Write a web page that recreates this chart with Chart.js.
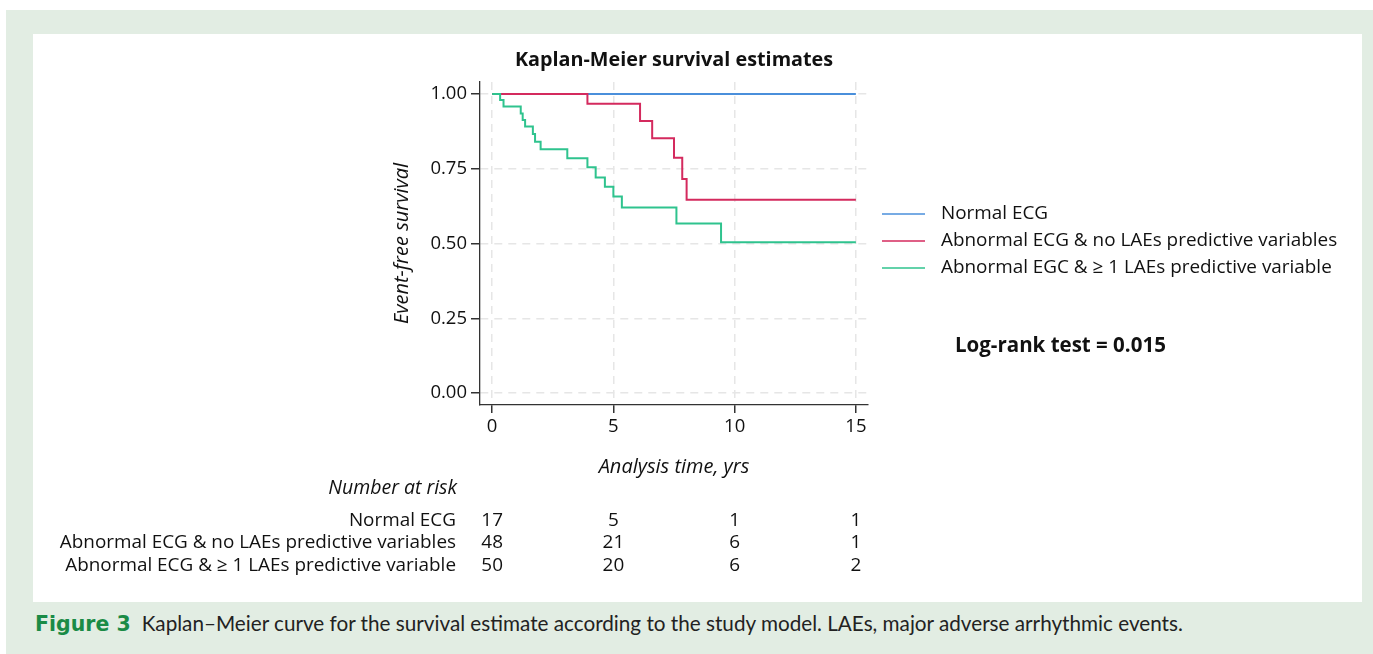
<!DOCTYPE html>
<html>
<head>
<meta charset="utf-8">
<script src="https://cdn.jsdelivr.net/npm/chart.js@4"></script>
<style>
  html, body { margin: 0; padding: 0; background: #ffffff; width: 1373px; height: 654px; overflow: hidden; }
  #outer { position: absolute; left: 6px; top: 10px; width: 1367px; height: 644px; background: #e2ede3; }
  #panel { position: absolute; left: 33px; top: 34px; width: 1329px; height: 568px; background: #ffffff; }
  #cv { position: absolute; left: 0; top: 0; }
  #caption { position: absolute; left: 35px; top: 611px; font-family: Lato, "Open Sans", sans-serif; font-size: 20.7px; color: #222; white-space: nowrap; }
  #caption b { color: #1a8b46; font-family: "DejaVu Sans", Lato, sans-serif; font-size: 20.5px; margin-right: 11px; }
</style>
</head>
<body>
<div id="outer"></div>
<div id="panel"></div>
<div id="caption"><b>Figure 3</b>Kaplan–Meier curve for the survival estimate according to the study model. LAEs, major adverse arrhythmic events.</div>
<canvas id="cv" width="1373" height="654"></canvas>
<script>
// ---- data ----
const seriesLabels = ['Normal ECG', 'Abnormal ECG & no LAEs predictive variables', 'Abnormal EGC & \u2265 1 LAEs predictive variable'];
const seriesColors = ['#4a8fdb', '#d42a5e', '#2fc38e'];

const normalTimes = [0, 15];
const normalSurv  = [1.0, 1.0];

const noLaeTimes = [0, 3.93, 6.1, 6.6, 7.5, 7.84, 8.02, 15];
const noLaeSurv  = [1.0, 0.967, 0.91, 0.852, 0.787, 0.716, 0.646, 0.646];

const laeTimes = [0, 0.33, 0.47, 1.18, 1.26, 1.36, 1.68, 1.77, 2.0, 3.1, 3.93, 4.27, 4.65, 5.0, 5.35, 7.6, 9.44, 15];
const laeSurv  = [1.0, 0.98, 0.958, 0.935, 0.913, 0.891, 0.866, 0.84, 0.815, 0.785, 0.755, 0.721, 0.69, 0.657, 0.62, 0.567, 0.504, 0.504];

const xTicks = [0, 5, 10, 15];
const xTickLabels = ['0', '5', '10', '15'];
const yTicks = [0, 0.25, 0.5, 0.75, 1.0];
const yTickLabels = ['0.00', '0.25', '0.50', '0.75', '1.00'];

const riskTimes = [0, 5, 10, 15];
const riskRowLabels = ['Normal ECG', 'Abnormal ECG & no LAEs predictive variables', 'Abnormal ECG & \u2265 1 LAEs predictive variable'];
const riskNormal = [17, 5, 1, 1];
const riskNoLae  = [48, 21, 6, 1];
const riskLae    = [50, 20, 6, 2];

const chartTitle = 'Kaplan-Meier survival estimates';
const xTitle = 'Analysis time, yrs';
const yTitle = 'Event-free survival';
const logRankText = 'Log-rank test = 0.015';
const riskHeader = 'Number at risk';

// ---- build ----
const FONT = '"Open Sans", "Noto Sans", sans-serif';
function pts(t, s) { return t.map((v, i) => ({ x: v, y: s[i] })); }

const extras = {
  id: 'extras',
  afterDraw(chart) {
    const ctx = chart.ctx;
    const ca = chart.chartArea;
    const xs = chart.scales.x;
    ctx.save();
    ctx.fillStyle = '#111';
    ctx.textBaseline = 'middle';
    // title
    ctx.font = 'bold 19.8px ' + FONT;
    ctx.textAlign = 'center';
    ctx.fillText(chartTitle, (ca.left + ca.right) / 2, 60);
    // legend
    ctx.font = '18.9px ' + FONT;
    ctx.textAlign = 'left';
    const ly = [214, 241, 268];
    seriesLabels.forEach((lab, i) => {
      ctx.strokeStyle = seriesColors[i];
      ctx.lineWidth = 1.6;
      ctx.beginPath();
      ctx.moveTo(ca.right + 14, ly[i]);
      ctx.lineTo(ca.right + 57, ly[i]);
      ctx.stroke();
      ctx.fillStyle = '#111';
      ctx.fillText(lab, ca.right + 73, ly[i]);
    });
    // log-rank
    ctx.font = 'bold 20.5px ' + FONT;
    ctx.fillText(logRankText, ca.right + 87, 346);
    // risk table
    ctx.font = 'italic 19.5px ' + FONT;
    ctx.textAlign = 'right';
    ctx.fillText(riskHeader, 457, 488);
    ctx.font = '18.9px ' + FONT;
    const ry = [521, 543, 566];
    const rows = [riskNormal, riskNoLae, riskLae];
    riskRowLabels.forEach((lab, i) => {
      ctx.textAlign = 'right';
      ctx.fillText(lab, 456, ry[i]);
      ctx.textAlign = 'center';
      riskTimes.forEach((t, j) => {
        ctx.fillText(String(rows[i][j]), xs.getPixelForValue(t), ry[i]);
      });
    });
    ctx.restore();
  }
};

new Chart(document.getElementById('cv'), {
  type: 'line',
  data: {
    datasets: [
      { label: seriesLabels[0], data: pts(normalTimes, normalSurv), borderColor: seriesColors[0], order: 3 },
      { label: seriesLabels[1], data: pts(noLaeTimes, noLaeSurv), borderColor: seriesColors[1], order: 2 },
      { label: seriesLabels[2], data: pts(laeTimes, laeSurv), borderColor: seriesColors[2], order: 1 }
    ].map(d => Object.assign(d, { stepped: 'before', borderWidth: 2, pointRadius: 0, fill: false, tension: 0 }))
  },
  options: {
    responsive: false,
    animation: false,
    events: [],
    layout: { padding: { left: 380, right: 505, top: 82, bottom: 175 } },
    plugins: { legend: { display: false }, title: { display: false }, tooltip: { enabled: false } },
    scales: {
      x: {
        type: 'linear', min: -0.5, max: 15.5,
        afterBuildTicks: s => { s.ticks = xTicks.map(v => ({ value: v })); },
        afterFit: s => { s.height = 74; },
        ticks: { callback: v => xTickLabels[xTicks.indexOf(v)], color: '#111', font: { family: FONT, size: 18.5 }, padding: 3, maxRotation: 0 },
        grid: { color: '#e6e6e6', lineWidth: 1.5, tickColor: '#333', tickLength: 8, tickBorderDash: [] },
        border: { color: '#333', width: 1.3, dash: [8, 6] },
        title: { display: true, text: xTitle, color: '#111', font: { family: FONT, size: 20, style: 'italic' }, padding: { top: 0, bottom: 0 } }
      },
      y: {
        type: 'linear', min: -0.04, max: 1.04,
        afterBuildTicks: s => { s.ticks = yTicks.map(v => ({ value: v })); },
        afterFit: s => { s.width = 100; },
        ticks: { callback: v => yTickLabels[yTicks.indexOf(v)], color: '#111', font: { family: FONT, size: 18.5 }, padding: 4 },
        grid: { color: '#e6e6e6', lineWidth: 1.5, tickColor: '#333', tickLength: 9, tickBorderDash: [] },
        border: { color: '#333', width: 1.3, dash: [8, 6] },
        title: { display: true, text: yTitle, color: '#111', font: { family: FONT, size: 20, style: 'italic' }, padding: { top: 10, bottom: 0 } }
      }
    }
  },
  plugins: [extras]
});
</script>
</body>
</html>
